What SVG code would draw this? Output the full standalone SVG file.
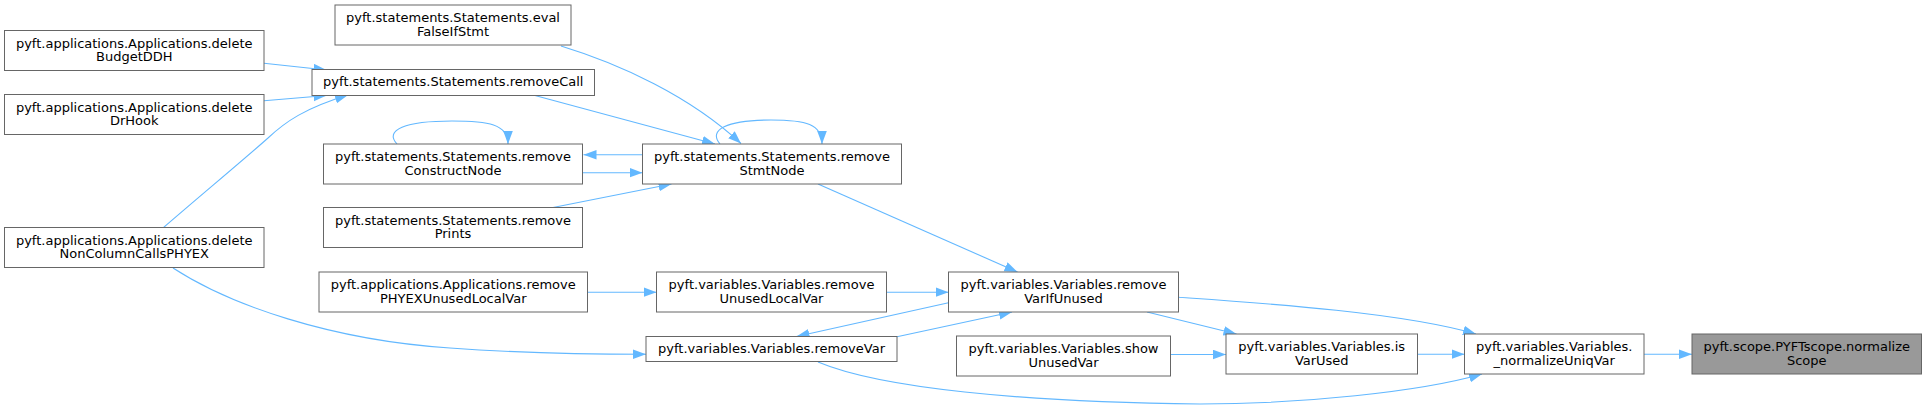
<svg xmlns="http://www.w3.org/2000/svg" width="1927" height="410" viewBox="0 0 1927 410">
<style>
  .n rect { fill: #ffffff; stroke: #666666; stroke-width: 1; }
  .n.hl rect { fill: #999999; }
  .n text { font-family: "DejaVu Sans", sans-serif; font-size: 13px; fill: #000000; text-anchor: middle; }
  .e path { fill: none; stroke: #63b8ff; stroke-width: 1.1; marker-end: url(#ah); }
</style>
<defs>
  <marker id="ah" markerWidth="14" markerHeight="11" refX="13" refY="4.8" orient="auto" markerUnits="userSpaceOnUse">
    <path d="M0,0 L13,4.8 L0,9.6 Z" fill="#63b8ff"/>
  </marker>
</defs>
<rect width="1927" height="410" fill="#ffffff"/>

<g id="edges" class="e">
  <path d="M264,63.3 L326.5,70"/>
  <path d="M264,100.7 L326.5,95.5"/>
  <path d="M163,228 C 200,196 248,156 268,138 C 285,122 305,108 348,95"/>
  <path d="M561,46 C 620,64 690,96 741,143.5"/>
  <path d="M535,95.5 L715,144"/>
  <path d="M397,144 C 384,130 405,121 452,121 C 488,121 508,124 508,144"/>
  <path d="M642.5,154.7 L583.5,154.7"/>
  <path d="M583,172.7 L642.5,172.7"/>
  <path d="M553,207.5 L671.5,184"/>
  <path d="M720,144 C 708,130 726,120 771,120 C 806,120 822,124 822,144"/>
  <path d="M818,184 L1017.5,272"/>
  <path d="M587.5,292.2 L656.5,292.2"/>
  <path d="M886.5,292.2 L948.5,292.2"/>
  <path d="M948.5,302.7 L796.5,336.5"/>
  <path d="M897,336.7 L1012,312"/>
  <path d="M173,268 C 230,305 330,340 450,348 C 520,353 580,354.2 646,354.2"/>
  <path d="M1147,312 L1236.5,334"/>
  <path d="M1170.5,354.5 L1226,354.5"/>
  <path d="M1178.5,297.3 C 1260,303 1400,312 1476,334"/>
  <path d="M1417.5,354.2 L1464.5,354.2"/>
  <path d="M818,362 C 880,388 1020,402 1200,404 C 1300,404 1420,392 1482,374"/>
  <path d="M1644,354.2 L1692,354.2"/>
</g>

<g id="deleteBudgetDDH" class="n">
  <rect x="4.5" y="30.5" width="259.5" height="40"/>
  <text x="134.25" y="47.5">pyft.applications.Applications.delete</text>
  <text x="134.25" y="61">BudgetDDH</text>
</g>
<g id="deleteDrHook" class="n">
  <rect x="4.5" y="94.5" width="259.5" height="40"/>
  <text x="134.25" y="111.5">pyft.applications.Applications.delete</text>
  <text x="134.25" y="125">DrHook</text>
</g>
<g id="deleteNonColumnCallsPHYEX" class="n">
  <rect x="4.5" y="227.5" width="259.5" height="40"/>
  <text x="134.25" y="244.5">pyft.applications.Applications.delete</text>
  <text x="134.25" y="258">NonColumnCallsPHYEX</text>
</g>
<g id="evalFalseIfStmt" class="n">
  <rect x="335" y="5" width="236" height="40"/>
  <text x="453" y="22">pyft.statements.Statements.eval</text>
  <text x="453" y="35.5">FalseIfStmt</text>
</g>
<g id="removeCall" class="n">
  <rect x="312" y="69.5" width="282.5" height="26"/>
  <text x="453.25" y="86">pyft.statements.Statements.removeCall</text>
</g>
<g id="removeConstructNode" class="n">
  <rect x="323.5" y="144" width="259" height="40"/>
  <text x="453" y="161">pyft.statements.Statements.remove</text>
  <text x="453" y="174.5">ConstructNode</text>
</g>
<g id="removePrints" class="n">
  <rect x="323.5" y="207.5" width="259" height="40"/>
  <text x="453" y="224.5">pyft.statements.Statements.remove</text>
  <text x="453" y="238">Prints</text>
</g>
<g id="removePHYEXUnusedLocalVar" class="n">
  <rect x="319" y="272" width="268.5" height="40"/>
  <text x="453.25" y="289">pyft.applications.Applications.remove</text>
  <text x="453.25" y="302.5">PHYEXUnusedLocalVar</text>
</g>
<g id="removeStmtNode" class="n">
  <rect x="642.5" y="144" width="259" height="40"/>
  <text x="772" y="161">pyft.statements.Statements.remove</text>
  <text x="772" y="174.5">StmtNode</text>
</g>
<g id="removeUnusedLocalVar" class="n">
  <rect x="656.5" y="272" width="230" height="40"/>
  <text x="771.5" y="289">pyft.variables.Variables.remove</text>
  <text x="771.5" y="302.5">UnusedLocalVar</text>
</g>
<g id="removeVar" class="n">
  <rect x="646" y="336.5" width="251" height="25"/>
  <text x="771.5" y="352.7">pyft.variables.Variables.removeVar</text>
</g>
<g id="removeVarIfUnused" class="n">
  <rect x="948.5" y="272" width="230" height="40"/>
  <text x="1063.5" y="289">pyft.variables.Variables.remove</text>
  <text x="1063.5" y="302.5">VarIfUnused</text>
</g>
<g id="showUnusedVar" class="n">
  <rect x="956.5" y="336" width="214" height="40"/>
  <text x="1063.5" y="353">pyft.variables.Variables.show</text>
  <text x="1063.5" y="366.5">UnusedVar</text>
</g>
<g id="isVarUsed" class="n">
  <rect x="1226" y="334" width="191.5" height="40"/>
  <text x="1321.75" y="351">pyft.variables.Variables.is</text>
  <text x="1321.75" y="364.5">VarUsed</text>
</g>
<g id="normalizeUniqVar" class="n">
  <rect x="1464.5" y="334" width="179.5" height="40"/>
  <text x="1554.25" y="351">pyft.variables.Variables.</text>
  <text x="1554.25" y="364.5">_normalizeUniqVar</text>
</g>
<g id="normalizeScope" class="n hl">
  <rect x="1692" y="334" width="229.5" height="40"/>
  <text x="1806.75" y="351">pyft.scope.PYFTscope.normalize</text>
  <text x="1806.75" y="364.5">Scope</text>
</g>
</svg>
